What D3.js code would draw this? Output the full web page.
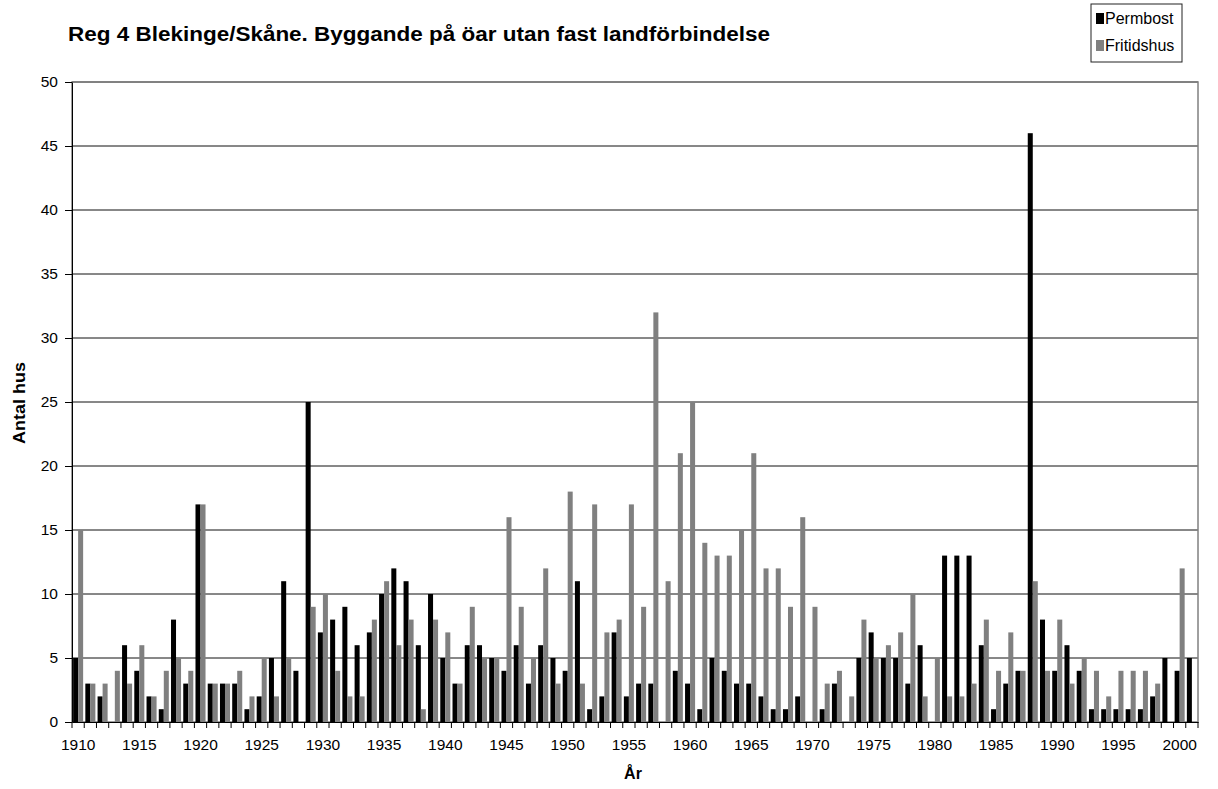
<!DOCTYPE html>
<html>
<head>
<meta charset="utf-8">
<script src="https://cdn.jsdelivr.net/npm/d3@7"></script>
<style>
body { margin: 0; background: #fff; }
text { font-family: "Liberation Sans", Arial, sans-serif; }
</style>
</head>
<body>
<script>
var years = d3.range(1910, 2002);
var series = ["Permbost", "Fritidshus"];
var colors = ["#000000", "#808080"];

var permbost = [5,3,2,0,6,4,2,1,8,3,
	17,3,3,3,1,2,5,11,4,25,
	7,8,9,6,7,10,12,11,6,10,
	5,3,6,6,5,4,6,3,6,5,
	4,11,1,2,7,2,3,3,0,4,
	3,1,5,4,3,3,2,1,1,2,
	0,1,3,0,5,7,5,5,3,6,
	0,13,13,13,6,1,3,4,46,8,
	4,6,4,1,1,1,1,1,2,5,
	4,5];
var fritidshus = [15,3,3,4,3,6,2,4,5,4,
	17,3,3,4,2,5,2,5,0,9,
	10,4,2,2,8,11,6,8,1,8,
	7,3,9,5,5,16,9,5,12,3,
	18,3,17,7,8,17,9,32,11,21,
	25,14,13,13,15,21,12,12,9,16,
	9,3,4,2,8,5,6,7,10,2,
	5,2,2,3,8,4,7,4,11,4,
	8,3,5,4,2,4,4,4,3,0,
	12,0];
var yTicks = d3.range(0, 51, 5);
var xLabels = d3.range(1910, 2001, 5);

var title = "Reg 4 Blekinge/Skåne. Byggande på öar utan fast landförbindelse";

var W = 1218, H = 789;
var plot = {left: 72, right: 1198, top: 82, bottom: 722};

var svg = d3.select("body").append("svg")
	.attr("width", W)
	.attr("height", H);

var x = d3.scaleBand()
	.domain(years)
	.range([plot.left, plot.right])
	.paddingInner(0.18)
	.paddingOuter(0.09);

var xs = d3.scaleBand()
	.domain(series)
	.range([0, x.bandwidth()]);

var y = d3.scaleLinear()
	.domain([0, 50])
	.range([plot.bottom, plot.top]);

// gridlines
svg.append("g")
	.selectAll("line")
	.data(yTicks.filter(d => d > 0))
	.enter().append("line")
	.attr("x1", plot.left).attr("x2", plot.right)
	.attr("y1", d => y(d)).attr("y2", d => y(d))
	.attr("stroke", "#111")
	.attr("stroke-width", 1);

// plot border
svg.append("rect")
	.attr("x", plot.left).attr("y", plot.top)
	.attr("width", plot.right - plot.left)
	.attr("height", plot.bottom - plot.top)
	.attr("fill", "none")
	.attr("stroke", "#808080")
	.attr("stroke-width", 1.5);

// bars
var rows = years.map((yr, i) => ({year: yr, vals: [permbost[i], fritidshus[i]]}));
var groups = svg.append("g").selectAll("g")
	.data(rows)
	.enter().append("g")
	.attr("transform", d => "translate(" + x(d.year) + ",0)");
groups.selectAll("rect")
	.data(d => d.vals.map((v, k) => ({key: series[k], v: v, k: k})))
	.enter().append("rect")
	.attr("x", d => xs(d.key))
	.attr("width", xs.bandwidth())
	.attr("y", d => y(d.v))
	.attr("height", d => y(0) - y(d.v))
	.attr("fill", d => colors[d.k]);

// y axis
var yAxis = svg.append("g")
	.attr("transform", "translate(" + plot.left + ",0)")
	.call(d3.axisLeft(y).tickValues(yTicks).tickSize(7).tickPadding(7).tickSizeOuter(0));
yAxis.select(".domain").attr("stroke", "#000");
yAxis.selectAll("text").attr("font-size", 15.5).attr("fill", "#000")
	.style("font-family", "'Liberation Sans', Arial, sans-serif");

// x axis
var xAxis = svg.append("g")
	.attr("transform", "translate(0," + plot.bottom + ")")
	.call(d3.axisBottom(x).tickValues(xLabels).tickSize(0).tickPadding(17).tickSizeOuter(0));
xAxis.select(".domain").attr("stroke", "#000");
xAxis.selectAll("text").attr("font-size", 15.5).attr("fill", "#000")
	.style("font-family", "'Liberation Sans', Arial, sans-serif");

// tick marks between categories
var step = x.step();
svg.append("g").selectAll("line")
	.data(d3.range(years.length + 1))
	.enter().append("line")
	.attr("x1", i => plot.left + i * step)
	.attr("x2", i => plot.left + i * step)
	.attr("y1", plot.bottom)
	.attr("y2", plot.bottom + 6)
	.attr("stroke", "#000");

// titles
svg.append("text")
	.attr("x", 68).attr("y", 41)
	.attr("font-size", 20).attr("font-weight", "bold")
	.attr("textLength", 702).attr("lengthAdjust", "spacingAndGlyphs")
	.text(title);

svg.append("text")
	.attr("transform", "translate(25,403) rotate(-90)")
	.attr("text-anchor", "middle")
	.attr("font-size", 17).attr("font-weight", "bold")
	.attr("textLength", 82).attr("lengthAdjust", "spacingAndGlyphs")
	.text("Antal hus");

svg.append("text")
	.attr("x", 633).attr("y", 779)
	.attr("text-anchor", "middle")
	.attr("font-size", 16).attr("font-weight", "bold")
	.text("År");

// legend
var lg = svg.append("g").attr("transform", "translate(1091,4)");
lg.append("rect")
	.attr("width", 91).attr("height", 58)
	.attr("fill", "#fff").attr("stroke", "#222");
series.forEach(function(s, i) {
	lg.append("rect")
		.attr("x", 5).attr("y", 9 + i * 27)
		.attr("width", 8).attr("height", 11)
		.attr("fill", colors[i]);
	lg.append("text")
		.attr("x", 14).attr("y", 20 + i * 27)
		.attr("font-size", 16)
		.text(s);
});
</script>
</body>
</html>
